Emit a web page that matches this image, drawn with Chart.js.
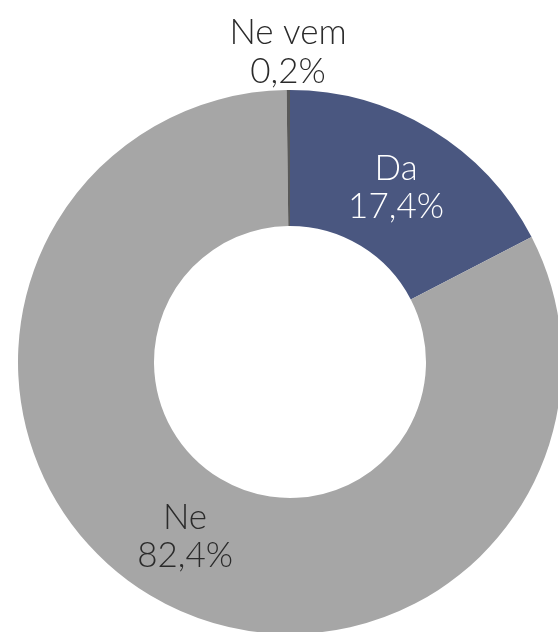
<!DOCTYPE html>
<html>
<head>
<meta charset="utf-8">
<script src="https://cdn.jsdelivr.net/npm/chart.js@4.4.0/dist/chart.umd.min.js"></script>
<style>
  html, body { margin: 0; padding: 0; background: #fff; overflow: hidden; width: 558px; height: 632px; }
  #wrap { position: absolute; left: 0; top: 0; width: 580px; height: 724px; }
</style>
</head>
<body>
<div id="wrap"><canvas id="c"></canvas></div>
<script>
const categories = ["Da", "Ne", "Ne vem"];
const values = [17.4, 82.4, 0.2];
const valueLabels = ["17,4%", "82,4%", "0,2%"];
const colors = ["#4a5780", "#a6a6a6", "#595959"];
const labelColors = ["#ffffff", "#2b2b2b", "#2b2b2b"];

const labelPlugin = {
  id: 'sliceLabels',
  afterDatasetsDraw(chart) {
    const ctx = chart.ctx;
    const meta = chart.getDatasetMeta(0);
    ctx.save();
    ctx.font = '300 35px Lato, "Noto Sans", sans-serif';
    ctx.textAlign = 'center';
    ctx.textBaseline = 'middle';
    meta.data.forEach((arc, i) => {
      const p = arc.getProps(['x', 'y', 'startAngle', 'endAngle', 'innerRadius', 'outerRadius'], true);
      const mid = (p.startAngle + p.endAngle) / 2;
      const small = values[i] < 2;
      const r = small ? p.outerRadius + 39 : (p.innerRadius + p.outerRadius) / 2;
      const cx = p.x + Math.cos(mid) * r;
      const cy = p.y + Math.sin(mid) * r;
      ctx.fillStyle = labelColors[i];
      if (small) {
        ctx.fillText(categories[i], cx, cy - 18);
        ctx.fillText(valueLabels[i], cx, cy + 21);
      } else {
        ctx.fillText(categories[i], cx, cy - 19);
        ctx.fillText(valueLabels[i], cx, cy + 19);
      }
    });
    ctx.restore();
  }
};

new Chart(document.getElementById('c'), {
  type: 'doughnut',
  data: {
    labels: categories,
    datasets: [{
      data: values,
      backgroundColor: colors,
      borderWidth: 0
    }]
  },
  options: {
    responsive: true,
    maintainAspectRatio: false,
    animation: false,
    cutout: '50%',
    rotation: 0,
    layout: { padding: 18 },
    plugins: { legend: { display: false }, tooltip: { enabled: false } }
  },
  plugins: [labelPlugin]
});
</script>
</body>
</html>
